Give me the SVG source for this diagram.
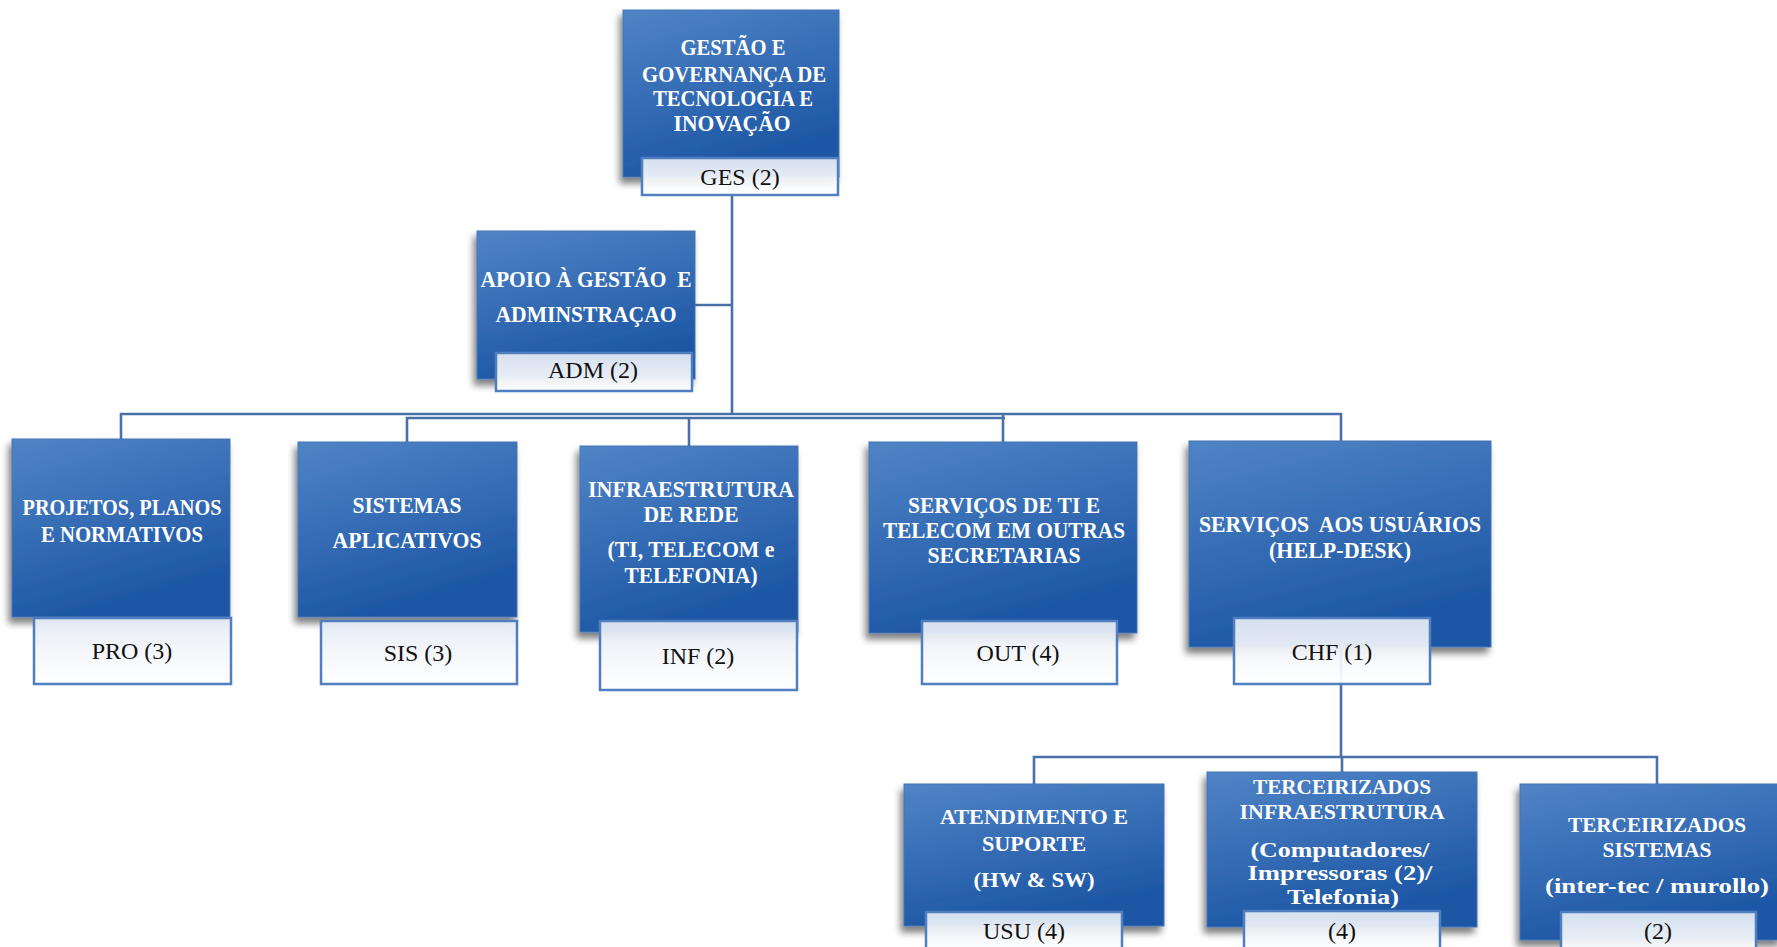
<svg xmlns="http://www.w3.org/2000/svg" width="1777" height="947" viewBox="0 0 1777 947">
<defs>
<linearGradient id="boxg" x1="0" y1="0" x2="0.35" y2="1">
<stop offset="0" stop-color="#5084c6"/>
<stop offset="1" stop-color="#1c56a4"/>
</linearGradient>
<linearGradient id="labg" x1="0" y1="0" x2="0" y2="1">
<stop offset="0" stop-color="#e3eaf4"/>
<stop offset="0.5" stop-color="#f3f6fa"/>
<stop offset="1" stop-color="#ffffff"/>
</linearGradient>
<filter id="sh" x="-10%" y="-10%" width="125%" height="130%">
<feDropShadow dx="-3" dy="6" stdDeviation="3.5" flood-color="#000" flood-opacity="0.5"/>
</filter>
</defs>
<style>
.box{fill:url(#boxg);stroke:#4775b4;stroke-width:1;filter:url(#sh)}
.lab{fill:url(#labg);fill-opacity:0.93;stroke:#4f7fc0;stroke-width:2.5}
.t{font-family:"Liberation Serif","Times New Roman",serif;font-weight:bold;font-size:24px;fill:#ffffff;text-anchor:middle}
.s{font-size:22px}
.l{font-family:"Liberation Serif","Times New Roman",serif;font-size:24px;fill:#111111;text-anchor:middle}
.c{fill:none;stroke:#4a70a8;stroke-width:2.6}
</style>
<rect width="1777" height="947" fill="#ffffff"/>
<g id="connectors">
<path class="c" d="M732 195 V414"/>
<path class="c" d="M695 305 H732"/>
<path class="c" d="M121 439 V414 H1341 V441"/>
<path class="c" d="M407 442 V418 H1005"/>
<path class="c" d="M689 446 V418"/>
<path class="c" d="M1003 442 V414"/>
<path class="c" d="M1341 647 V757"/>
<path class="c" d="M1034 784 V757 H1657 V784"/>
<path class="c" d="M1342 757 V772"/>
</g>
<g id="ges">
<rect class="box" x="623" y="10" width="216" height="167"/>
<text class="t"><tspan x="733" y="55" textLength="105" lengthAdjust="spacingAndGlyphs">GESTÃO E</tspan><tspan x="734" y="82" textLength="184" lengthAdjust="spacingAndGlyphs">GOVERNANÇA DE</tspan><tspan x="733" y="106" textLength="160" lengthAdjust="spacingAndGlyphs">TECNOLOGIA E</tspan><tspan x="732" y="131" textLength="117" lengthAdjust="spacingAndGlyphs">INOVAÇÃO</tspan></text>
<rect class="lab" x="642" y="158" width="196" height="37"/>
<text class="l" x="740" y="185">GES (2)</text>
</g>
<g id="adm">
<rect class="box" x="477" y="231" width="218" height="148"/>
<text class="t"><tspan x="586" y="287" textLength="211" lengthAdjust="spacingAndGlyphs">APOIO À GESTÃO&#160; E</tspan><tspan x="586" y="322" textLength="181" lengthAdjust="spacingAndGlyphs">ADMINSTRAÇAO</tspan></text>
<rect class="lab" x="496" y="353" width="196" height="38"/>
<text class="l" x="593" y="378">ADM (2)</text>
</g>
<g id="pro">
<rect class="box" x="12" y="439" width="218" height="178"/>
<text class="t"><tspan x="122" y="515" textLength="199" lengthAdjust="spacingAndGlyphs">PROJETOS, PLANOS</tspan><tspan x="122" y="542" textLength="162" lengthAdjust="spacingAndGlyphs">E NORMATIVOS</tspan></text>
<rect class="lab" x="34" y="618" width="197" height="66"/>
<text class="l" x="132" y="659">PRO (3)</text>
</g>
<g id="sis">
<rect class="box" x="298" y="442" width="219" height="175"/>
<text class="t"><tspan x="407" y="513" textLength="109" lengthAdjust="spacingAndGlyphs">SISTEMAS</tspan><tspan x="407" y="548" textLength="149" lengthAdjust="spacingAndGlyphs">APLICATIVOS</tspan></text>
<rect class="lab" x="321" y="621" width="196" height="63"/>
<text class="l" x="418" y="661">SIS (3)</text>
</g>
<g id="inf">
<rect class="box" x="580" y="446" width="218" height="186"/>
<text class="t"><tspan x="691" y="497" textLength="206" lengthAdjust="spacingAndGlyphs">INFRAESTRUTURA</tspan><tspan x="691" y="522" textLength="95" lengthAdjust="spacingAndGlyphs">DE REDE</tspan><tspan x="691" y="557" textLength="167" lengthAdjust="spacingAndGlyphs">(TI, TELECOM e</tspan><tspan x="691" y="583" textLength="133" lengthAdjust="spacingAndGlyphs">TELEFONIA)</tspan></text>
<rect class="lab" x="600" y="621" width="197" height="69"/>
<text class="l" x="698" y="664">INF (2)</text>
</g>
<g id="out">
<rect class="box" x="869" y="442" width="268" height="191"/>
<text class="t"><tspan x="1004" y="513" textLength="192" lengthAdjust="spacingAndGlyphs">SERVIÇOS DE TI E</tspan><tspan x="1004" y="538" textLength="242" lengthAdjust="spacingAndGlyphs">TELECOM EM OUTRAS</tspan><tspan x="1004" y="563" textLength="153" lengthAdjust="spacingAndGlyphs">SECRETARIAS</tspan></text>
<rect class="lab" x="922" y="621" width="195" height="63"/>
<text class="l" x="1018" y="661">OUT (4)</text>
</g>
<g id="chf">
<rect class="box" x="1189" y="441" width="302" height="206"/>
<text class="t"><tspan x="1340" y="532" textLength="282" lengthAdjust="spacingAndGlyphs">SERVIÇOS&#160; AOS USUÁRIOS</tspan><tspan x="1340" y="558" textLength="142" lengthAdjust="spacingAndGlyphs">(HELP-DESK)</tspan></text>
<rect class="lab" x="1234" y="618" width="196" height="66"/>
<text class="l" x="1332" y="660">CHF (1)</text>
</g>
<g id="usu">
<rect class="box" x="904" y="784" width="260" height="142"/>
<text class="t s"><tspan x="1034" y="824" textLength="188" lengthAdjust="spacingAndGlyphs">ATENDIMENTO E</tspan><tspan x="1034" y="851" textLength="104" lengthAdjust="spacingAndGlyphs">SUPORTE</tspan><tspan x="1034" y="887" textLength="121" lengthAdjust="spacingAndGlyphs">(HW &amp; SW)</tspan></text>
<rect class="lab" x="926" y="912" width="196" height="44"/>
<text class="l" x="1024" y="939">USU (4)</text>
</g>
<g id="tinf">
<rect class="box" x="1207" y="772" width="270" height="155"/>
<text class="t s"><tspan x="1342" y="794" textLength="178" lengthAdjust="spacingAndGlyphs">TERCEIRIZADOS</tspan><tspan x="1342" y="819" textLength="205" lengthAdjust="spacingAndGlyphs">INFRAESTRUTURA</tspan><tspan x="1340" y="857" textLength="179" lengthAdjust="spacingAndGlyphs">(Computadores/</tspan><tspan x="1340" y="880" textLength="185" lengthAdjust="spacingAndGlyphs">Impressoras (2)/</tspan><tspan x="1343" y="904" textLength="112" lengthAdjust="spacingAndGlyphs">Telefonia)</tspan></text>
<rect class="lab" x="1244" y="911" width="196" height="45"/>
<text class="l" x="1342" y="939">(4)</text>
</g>
<g id="tsis">
<rect class="box" x="1520" y="784" width="262" height="156"/>
<text class="t s"><tspan x="1657" y="832" textLength="178" lengthAdjust="spacingAndGlyphs">TERCEIRIZADOS</tspan><tspan x="1657" y="857" textLength="109" lengthAdjust="spacingAndGlyphs">SISTEMAS</tspan><tspan x="1657" y="893" textLength="224" lengthAdjust="spacingAndGlyphs">(inter-tec / murollo)</tspan></text>
<rect class="lab" x="1561" y="912" width="195" height="44"/>
<text class="l" x="1658" y="939">(2)</text>
</g>
</svg>
